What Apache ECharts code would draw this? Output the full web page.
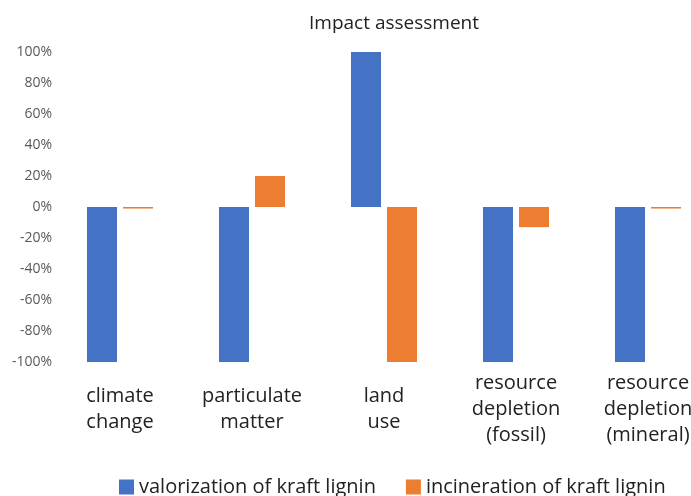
<!DOCTYPE html>
<html>
<head>
<meta charset="utf-8">
<script src="https://cdn.jsdelivr.net/npm/echarts@6/dist/echarts.min.js"></script>
<style>
  html, body { margin: 0; padding: 0; background: #fff; }
  #chart { width: 691px; height: 496px; }
</style>
</head>
<body>
<div id="chart"></div>
<script>
// ==================== 数据 ====================

const categories = [
  'climate\nchange',
  'particulate\nmatter',
  'land\nuse',
  'resource\ndepletion\n(fossil)',
  'resource\ndepletion\n(mineral)'
];

const seriesNames = ['valorization of kraft lignin', 'incineration of kraft lignin'];

// 百分比
const valorization = [-100, -100, 100, -100, -100];
const incineration = [-1, 20, -100, -13, -1];

const yMin = -100;
const yMax = 100;
const yStep = 20;

// ==================== 图表 ====================

const font = '"Open Sans", "Noto Sans", sans-serif';

const chart = echarts.init(document.getElementById('chart'));

chart.setOption({
  animation: false,
  color: ['#4472C4', '#ED7D31'],
  title: {
    text: 'Impact assessment',
    left: 389,
    top: 9,
    textAlign: 'center',
    textStyle: { fontFamily: font, fontSize: 19, fontWeight: 'normal', color: '#222' }
  },
  legend: {
    left: 114,
    top: 472,
    itemWidth: 15,
    itemHeight: 15,
    itemGap: 30,
    icon: 'rect',
    outerBoundsMode: 'none',
    textStyle: { fontFamily: font, fontSize: 20, color: '#222' },
    data: seriesNames
  },
  // 右侧被裁掉，网格延伸到画布外
  grid: { left: 54, top: 52, width: 660, height: 310, containLabel: false, outerBoundsMode: 'none' },
  xAxis: {
    type: 'category',
    data: categories,
    axisLine: { show: false },
    axisTick: { show: false },
    axisLabel: {
      interval: 0,
      margin: 47,
      verticalAlign: 'middle',
      fontFamily: font,
      fontSize: 20,
      lineHeight: 26,
      color: '#222'
    }
  },
  yAxis: {
    type: 'value',
    min: yMin,
    max: yMax,
    interval: yStep,
    splitLine: { show: false },
    axisLine: { show: false },
    axisTick: { show: false },
    axisLabel: {
      margin: 2,
      fontFamily: font,
      fontSize: 14,
      color: '#595959',
      formatter: v => v + '%'
    }
  },
  series: [
    { name: seriesNames[0], type: 'bar', data: valorization, barWidth: 30, barGap: '20%' },
    { name: seriesNames[1], type: 'bar', data: incineration, barWidth: 30, barGap: '20%' }
  ]
});
</script>
</body>
</html>
